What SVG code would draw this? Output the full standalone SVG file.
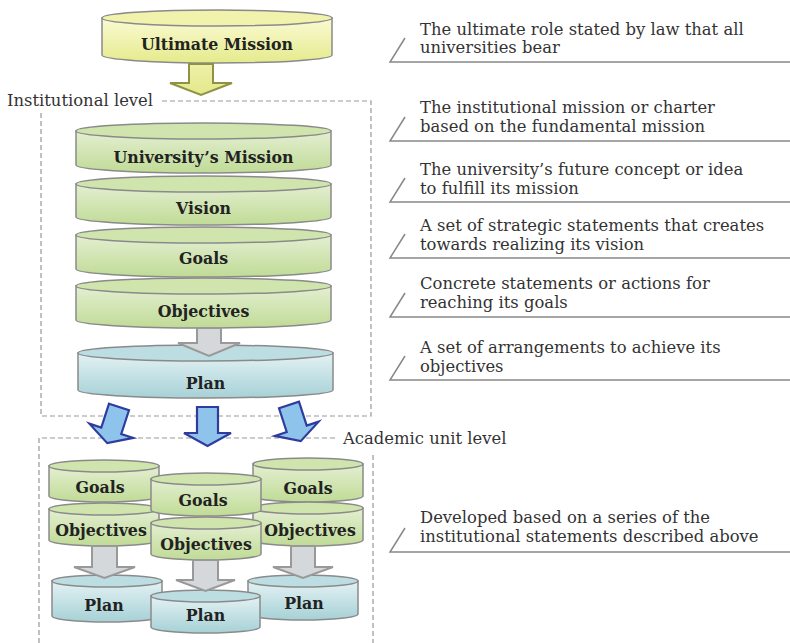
<svg xmlns="http://www.w3.org/2000/svg" width="790" height="643" viewBox="0 0 790 643">
<defs>
<linearGradient id="gy" x1="0" y1="0" x2="0" y2="1"><stop offset="0" stop-color="#fafbd4"/><stop offset="1" stop-color="#e5ea8c"/></linearGradient>
<linearGradient id="gg" x1="0" y1="0" x2="0" y2="1"><stop offset="0" stop-color="#e4efd2"/><stop offset="1" stop-color="#c0db96"/></linearGradient>
<linearGradient id="gb" x1="0" y1="0" x2="0" y2="1"><stop offset="0" stop-color="#e4f2f4"/><stop offset="1" stop-color="#a6d1d6"/></linearGradient>
<linearGradient id="ga" x1="0" y1="0" x2="0" y2="1"><stop offset="0" stop-color="#eef1a8"/><stop offset="1" stop-color="#e3e88a"/></linearGradient>
</defs>
<style>
.body{stroke:#8a8a8a;stroke-width:1.5}
.y .body{fill:url(#gy)} .y .top{fill:#f1f3ad}
.g .body{fill:url(#gg)} .g .top{fill:#d0e5ae}
.b .body{fill:url(#gb)} .b .top{fill:#bcdde2}
.top{stroke:#8a8a8a;stroke-width:1.5}
.lbl{font-family:"DejaVu Serif",serif;font-weight:bold;font-size:15.8px;fill:#222;text-anchor:middle}
.desc{font-family:"DejaVu Serif",serif;font-size:16.4px;fill:#333}
.lvl{font-family:"DejaVu Serif",serif;font-size:16.4px;fill:#333}
.dash{fill:none;stroke:#999;stroke-width:1.2;stroke-dasharray:5 3}
.call{fill:none;stroke:#888;stroke-width:1.5}
.ga{fill:#d5d8da;stroke:#999;stroke-width:2}
.ba{fill:#8ec4ec;stroke:#2f3c9e;stroke-width:2.2}
.ya{fill:url(#ga);stroke:#8f9245;stroke-width:2}
</style>

<!-- level boxes -->
<g id="institutional-level">
<path class="dash" d="M162,101 H371 V416 H41 V113"/>
<text class="lvl" x="7" y="106">Institutional level</text>
</g>
<g id="academic-level">
<path class="dash" d="M335,438 H39 V643 M373,455 V643"/>
<text class="lvl" x="343" y="444">Academic unit level</text>
</g>

<!-- nodes -->
<g id="ultimate-mission" class="y">
<path class="body" d="M102,18 V55 A115,8 0 0 0 332,55 V18 Z"/>
<ellipse class="top" cx="217" cy="18" rx="115" ry="8"/>
<text class="lbl" x="217" y="50">Ultimate Mission</text>
</g>

<g id="univ-mission" class="g">
<path class="body" d="M76,131 V165 A127.5,8 0 0 0 331,165 V131 Z"/>
<ellipse class="top" cx="203.5" cy="131" rx="127.5" ry="8"/>
<text class="lbl" x="203.5" y="163">University’s Mission</text>
</g>
<g id="vision" class="g">
<path class="body" d="M76,184 V217 A127.5,8 0 0 0 331,217 V184 Z"/>
<ellipse class="top" cx="203.5" cy="184" rx="127.5" ry="8"/>
<text class="lbl" x="203.5" y="214">Vision</text>
</g>
<g id="goals" class="g">
<path class="body" d="M76,235 V269 A127.5,8 0 0 0 331,269 V235 Z"/>
<ellipse class="top" cx="203.5" cy="235" rx="127.5" ry="8"/>
<text class="lbl" x="203.5" y="264">Goals</text>
</g>
<g id="objectives" class="g">
<path class="body" d="M76,286 V320 A127.5,8 0 0 0 331,320 V286 Z"/>
<ellipse class="top" cx="203.5" cy="286" rx="127.5" ry="8"/>
<text class="lbl" x="203.5" y="317">Objectives</text>
</g>
<g id="plan" class="b">
<path class="body" d="M78,353 V390 A127.5,8 0 0 0 333,390 V353 Z"/>
<ellipse class="top" cx="205.5" cy="353" rx="127.5" ry="8"/>
<text class="lbl" x="205.5" y="389">Plan</text>
</g>

<!-- academic left -->
<g id="l-goals" class="g">
<path class="body" d="M49,466 V496 A55,6 0 0 0 159,496 V466 Z"/>
<ellipse class="top" cx="104" cy="466" rx="55" ry="6"/>
<text class="lbl" x="100" y="493">Goals</text>
</g>
<g id="l-objectives" class="g">
<path class="body" d="M49,509 V540 A55,6 0 0 0 159,540 V509 Z"/>
<ellipse class="top" cx="104" cy="509" rx="55" ry="6"/>
<text class="lbl" x="101" y="536">Objectives</text>
</g>
<g id="l-plan" class="b">
<path class="body" d="M52,581 V616 A55,6 0 0 0 162,616 V581 Z"/>
<ellipse class="top" cx="107" cy="581" rx="55" ry="6"/>
<text class="lbl" x="104" y="611">Plan</text>
</g>
<!-- academic right -->
<g id="r-goals" class="g">
<path class="body" d="M253,464 V496 A55,6 0 0 0 363,496 V464 Z"/>
<ellipse class="top" cx="308" cy="464" rx="55" ry="6"/>
<text class="lbl" x="308" y="494">Goals</text>
</g>
<g id="r-objectives" class="g">
<path class="body" d="M253,508 V540 A55,6 0 0 0 363,540 V508 Z"/>
<ellipse class="top" cx="308" cy="508" rx="55" ry="6"/>
<text class="lbl" x="310" y="536">Objectives</text>
</g>
<g id="r-plan" class="b">
<path class="body" d="M248,581 V614 A55,6 0 0 0 358,614 V581 Z"/>
<ellipse class="top" cx="303" cy="581" rx="55" ry="6"/>
<text class="lbl" x="304" y="609">Plan</text>
</g>
<!-- academic middle -->
<g id="m-goals" class="g">
<path class="body" d="M151,479 V510 A55,6 0 0 0 261,510 V479 Z"/>
<ellipse class="top" cx="206" cy="479" rx="55" ry="6"/>
<text class="lbl" x="203" y="506">Goals</text>
</g>
<g id="m-objectives" class="g">
<path class="body" d="M151,523 V554 A55,6 0 0 0 261,554 V523 Z"/>
<ellipse class="top" cx="206" cy="523" rx="55" ry="6"/>
<text class="lbl" x="206" y="550">Objectives</text>
</g>
<g id="m-plan" class="b">
<path class="body" d="M151,596 V627 A54.5,6 0 0 0 260,627 V596 Z"/>
<ellipse class="top" cx="205.5" cy="596" rx="54.5" ry="6"/>
<text class="lbl" x="205.5" y="621">Plan</text>
</g>

<!-- connectors -->
<g id="connectors">
<path class="ya" d="M189,64 H213 V83 H232 L201,95 L170,83 H189 Z"/>
<path class="ga" d="M197,328 H221 V343 H240 L209,356 L178,343 H197 Z"/>
<path class="ba" transform="translate(119,407) rotate(18)" d="M-10.5,0 H10.5 V25 H23 L0,38 L-23,25 H-10.5 Z"/>
<path class="ba" d="M197,407 H218 V433 H231 L207.5,446 L184,433 H197 Z"/>
<path class="ba" transform="translate(289,405) rotate(-18)" d="M-10.5,0 H10.5 V25 H23 L0,38 L-23,25 H-10.5 Z"/>
<path class="ga" d="M92,546 H117 V567 H135 L104.5,578 L74,567 H92 Z"/>
<path class="ga" d="M193,560 H218 V580 H235 L205.5,591 L176,580 H193 Z"/>
<path class="ga" d="M291,546 H315 V567 H333 L303,578 L273,567 H291 Z"/>
</g>

<!-- callouts -->
<g id="callouts">
<path class="call" d="M405,38 L390,62 H790"/>
<text class="desc" x="420" y="35">The ultimate role stated by law that all</text>
<text class="desc" x="420" y="53">universities bear</text>
<path class="call" d="M405,117 L390,141 H790"/>
<text class="desc" x="420" y="113">The institutional mission or charter</text>
<text class="desc" x="420" y="132">based on the fundamental mission</text>
<path class="call" d="M405,178 L390,202 H790"/>
<text class="desc" x="420" y="175">The university’s future concept or idea</text>
<text class="desc" x="420" y="194">to fulfill its mission</text>
<path class="call" d="M405,234 L390,258 H790"/>
<text class="desc" x="420" y="231">A set of strategic statements that creates</text>
<text class="desc" x="420" y="250">towards realizing its vision</text>
<path class="call" d="M405,293 L390,317 H790"/>
<text class="desc" x="420" y="289">Concrete statements or actions for</text>
<text class="desc" x="420" y="308">reaching its goals</text>
<path class="call" d="M405,356 L390,380 H790"/>
<text class="desc" x="420" y="353">A set of arrangements to achieve its</text>
<text class="desc" x="420" y="372">objectives</text>
<path class="call" d="M405,528 L390,552 H790"/>
<text class="desc" x="420" y="523">Developed based on a series of the</text>
<text class="desc" x="420" y="542">institutional statements described above</text>
</g>
</svg>
